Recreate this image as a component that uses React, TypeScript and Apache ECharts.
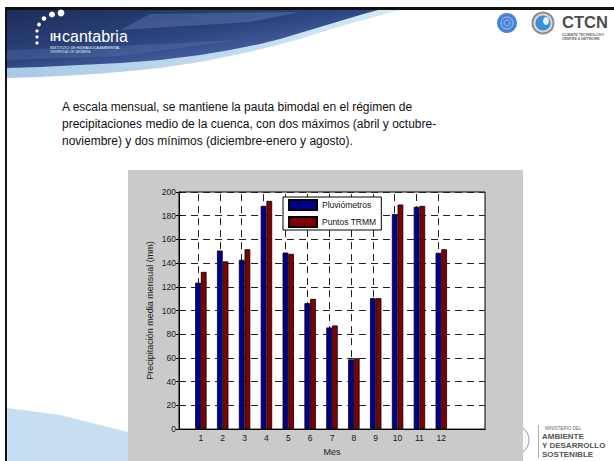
import React, { useEffect, useRef } from 'react';
import * as echarts from 'echarts';

const months = [1, 2, 3, 4, 5, 6, 7, 8, 9, 10, 11, 12];
const pluviometros = [123.5, 150.6, 142.8, 188.3, 148.9, 106.2, 85.7, 58.8, 110.4, 181.4, 187.5, 148.7];
const puntosTrmm = [132.6, 141.4, 151.7, 192.5, 147.8, 109.8, 87.4, 59.7, 110.4, 189.4, 188.3, 151.7];
const seriesNames = ['Pluviómetros', 'Puntos TRMM'];
const yTitle = 'Precipitación media mensual (mm)';
const xTitle = 'Mes';
const paragraph = [
  'A escala mensual, se mantiene la pauta bimodal en el régimen de',
  'precipitaciones medio de la cuenca, con dos máximos (abril y octubre-',
  'noviembre) y dos mínimos (diciembre-enero y agosto).',
];
const ministryLines = ['AMBIENTE', 'Y DESARROLLO', 'SOSTENIBLE'];

const FONT = "'Liberation Sans', Arial, sans-serif";

function buildOption(): any {
  const dashed = [7, 5];
  const graphic: any[] = [
    // left & top borders
    { type: 'rect', z: -20, shape: { x: 5, y: 7, width: 2, height: 454 }, style: { fill: '#111' } },
    // header light band
    {
      type: 'polygon', z: -19,
      shape: { points: [[7, 10], [400, 10], [382, 15], [352, 23], [322, 32], [300, 39], [270, 47], [240, 54], [200, 62], [160, 68], [120, 72], [80, 75], [40, 77], [7, 78]] },
      style: { fill: new echarts.graphic.LinearGradient(0, 0, 1, 0, [{ offset: 0, color: '#a7c9e6' }, { offset: 1, color: '#d8e9f7' }]) },
    },
    // header dark swoosh
    {
      type: 'polygon', z: -18,
      shape: { points: [[7, 10], [378, 10], [360, 15], [340, 21], [320, 27], [300, 33], [280, 39], [260, 44], [230, 50], [200, 55], [160, 60], [120, 63], [80, 65], [40, 67], [7, 68]] },
      style: { fill: new echarts.graphic.LinearGradient(0, 0, 1, 1, [{ offset: 0, color: '#1c2d58' }, { offset: 0.45, color: '#2c4580' }, { offset: 1, color: '#6283c4' }]) },
    },
    // streaks
    {
      type: 'polygon', z: -17,
      shape: { points: [[150, 14], [300, 12], [250, 22], [120, 30]] },
      style: { fill: 'rgba(140,170,220,0.25)' },
    },
    {
      type: 'polygon', z: -17,
      shape: { points: [[7, 50], [160, 44], [240, 40], [120, 56], [7, 60]] },
      style: { fill: 'rgba(120,150,210,0.2)' },
    },
    { type: 'rect', z: -16, shape: { x: 5, y: 7, width: 609, height: 3 }, style: { fill: '#111' } },
    // IH cantabria dots
    { type: 'circle', z: -15, shape: { cx: 61, cy: 13, r: 3.4 }, style: { fill: '#fff' } },
    { type: 'circle', z: -15, shape: { cx: 52, cy: 14.5, r: 3 }, style: { fill: '#fff' } },
    { type: 'circle', z: -15, shape: { cx: 44, cy: 18.5, r: 2.3 }, style: { fill: '#fff' } },
    { type: 'circle', z: -15, shape: { cx: 39, cy: 24.5, r: 1.9 }, style: { fill: '#fff' } },
    { type: 'circle', z: -15, shape: { cx: 37, cy: 31, r: 1.6 }, style: { fill: '#fff' } },
    { type: 'circle', z: -15, shape: { cx: 37, cy: 37, r: 1.6 }, style: { fill: '#fff' } },
    { type: 'circle', z: -15, shape: { cx: 37, cy: 43, r: 1.6 }, style: { fill: '#fff' } },
    { type: 'text', z: -15, x: 50, y: 37, style: { text: 'IH', fontSize: 11, fontWeight: 'bold', fill: '#fff', fontFamily: FONT, verticalAlign: 'middle' } },
    { type: 'text', z: -15, x: 62, y: 36, style: { text: 'cantabria', fontSize: 16, fill: '#fff', fontFamily: FONT, verticalAlign: 'middle' } },
    { type: 'text', z: -15, x: 50, y: 47.5, style: { text: 'INSTITUTO DE HIDRÁULICA AMBIENTAL', fontSize: 3.7, lineHeight: 4, fill: '#e8eef8', fontFamily: FONT, verticalAlign: 'middle' } },
    { type: 'text', z: -15, x: 50, y: 51.5, style: { text: 'UNIVERSIDAD DE CANTABRIA', fontSize: 2.8, lineHeight: 3, fill: '#d8e0f0', fontFamily: FONT, verticalAlign: 'middle' } },
    // UN logo
    { type: 'circle', z: -15, shape: { cx: 507, cy: 23, r: 10 }, style: { fill: '#4a84d8' } },
    { type: 'circle', z: -15, shape: { cx: 507, cy: 23, r: 6 }, style: { fill: 'none', stroke: '#9fc0ee', lineWidth: 1 } },
    { type: 'circle', z: -15, shape: { cx: 507, cy: 23, r: 3 }, style: { fill: 'none', stroke: '#9fc0ee', lineWidth: 1 } },
    // globe logo
    { type: 'circle', z: -15, shape: { cx: 543, cy: 23, r: 10.5 }, style: { fill: '#d8d8d8', stroke: '#8c8c8c', lineWidth: 2 } },
    { type: 'circle', z: -15, shape: { cx: 543, cy: 23, r: 7.5 }, style: { fill: '#3a8fd9' } },
    { type: 'ellipse', z: -15, shape: { cx: 546, cy: 21, rx: 3, ry: 4 }, style: { fill: '#e6f0fa' } },
    { type: 'text', z: -15, x: 562, y: 22, style: { text: 'CTCN', fontSize: 16.5, fontWeight: 'bold', fill: '#4d4d4d', fontFamily: FONT, verticalAlign: 'middle' } },
    { type: 'text', z: -15, x: 562, y: 33, style: { text: 'CLIMATE TECHNOLOGY\nCENTRE & NETWORK', fontSize: 3.6, lineHeight: 4, fontWeight: 'bold', fill: '#666', fontFamily: FONT, verticalAlign: 'top' } },
    // paragraph
    ...paragraph.map((t, i) => ({
      type: 'text', z: -15, x: 62, y: 107 + i * 17,
      style: { text: t, fontSize: 12, fill: '#111', fontFamily: FONT, verticalAlign: 'middle' },
    })),
    // bottom-left swoosh
    {
      type: 'polygon', z: -15,
      shape: { points: [[7, 408], [60, 415], [128, 432], [200, 448], [250, 461], [7, 461]] },
      style: { fill: '#c6def2' },
    },
    // ministry emblem & text
    { type: 'circle', z: -15, shape: { cx: 514, cy: 440, r: 15 }, style: { fill: '#fafafa', stroke: '#9a9a9a', lineWidth: 1 } },
    { type: 'rect', z: -15, shape: { x: 538, y: 425, width: 0.8, height: 33 }, style: { fill: '#999' } },
    { type: 'text', z: -15, x: 545, y: 425.5, style: { text: 'MINISTERIO DEL', fontSize: 4.5, lineHeight: 5, fill: '#666', fontFamily: FONT, verticalAlign: 'top' } },
    ...ministryLines.map((t, i) => ({
      type: 'text', z: -15, x: 542, y: 431.5 + i * 9.2,
      style: { text: t, fontSize: 8, lineHeight: 9, fontWeight: 'bold', fill: '#555', fontFamily: FONT, verticalAlign: 'top' },
    })),
    // gray figure background
    { type: 'rect', z: -10, shape: { x: 128, y: 170, width: 395, height: 291 }, style: { fill: '#cacaca' } },
  ];

  const axisFont = { fontSize: 8.5, color: '#1a1a1a', fontFamily: FONT };
  return {
    animation: false,
    backgroundColor: '#ffffff',
    graphic,
    grid: { left: 179, top: 192, right: 129, bottom: 28.3, show: true, backgroundColor: '#ffffff', borderColor: '#000', borderWidth: 1, z: 0 },
    legend: {
      data: seriesNames,
      orient: 'vertical',
      left: 283,
      top: 197,
      itemWidth: 28,
      itemHeight: 10,
      itemGap: 5,
      padding: [2, 5, 2, 5],
      icon: 'rect',
      backgroundColor: '#fff',
      borderColor: '#000',
      borderWidth: 1,
      textStyle: { fontSize: 8.5, color: '#111', fontFamily: FONT },
    },
    xAxis: [
      {
        type: 'value', min: 0, max: 14, interval: 1, position: 'bottom',
        name: xTitle, nameLocation: 'middle', nameGap: 15,
        nameTextStyle: { fontSize: 9, color: '#1a1a1a', fontFamily: FONT },
        axisLine: { show: true, lineStyle: { color: '#000', width: 1 } },
        axisTick: { show: false },
        splitLine: { show: false },
        axisLabel: { ...axisFont, margin: 4, formatter: (v: number) => (months.includes(v) ? String(v) : '') },
      },
      {
        type: 'value', min: 0, max: 14, interval: 1, position: 'top',
        axisLine: { show: true, lineStyle: { color: '#000', width: 1 } },
        axisTick: { show: false }, axisLabel: { show: false }, splitLine: { show: false },
      },
    ],
    yAxis: [
      {
        type: 'value', min: 0, max: 200, interval: 20, position: 'left',
        name: yTitle, nameLocation: 'middle', nameGap: 25,
        nameTextStyle: { fontSize: 9, color: '#1a1a1a', fontFamily: FONT },
        axisLine: { show: true, lineStyle: { color: '#000', width: 1 } },
        axisTick: { show: true, inside: true, length: 3, lineStyle: { color: '#000' } },
        axisLabel: { ...axisFont, margin: 3 },
        splitLine: { show: true, lineStyle: { color: '#222', type: dashed, width: 1 } },
      },
      {
        type: 'value', min: 0, max: 200, interval: 20, position: 'right',
        axisLine: { show: true, lineStyle: { color: '#000', width: 1 } },
        axisTick: { show: true, inside: true, length: 3, lineStyle: { color: '#000' } },
        axisLabel: { show: false }, splitLine: { show: false },
      },
    ],
    series: [
      {
        name: seriesNames[0], type: 'bar', xAxisIndex: 0, yAxisIndex: 0, z: 2,
        barWidth: 5.7, barGap: '0%',
        data: months.map((m, i) => [m, pluviometros[i]]),
        itemStyle: { color: '#00008f', borderColor: '#000', borderWidth: 0.8 },
        markLine: {
          z: 1, silent: true, symbol: ['none', 'none'], label: { show: false },
          lineStyle: { color: '#222', type: dashed, width: 1 },
          emphasis: { disabled: true },
          data: months.map((m) => ({ xAxis: m })),
        },
      },
      {
        name: seriesNames[1], type: 'bar', xAxisIndex: 0, yAxisIndex: 0, z: 2,
        barWidth: 5.7, barGap: '0%',
        data: months.map((m, i) => [m, puntosTrmm[i]]),
        itemStyle: { color: '#800000', borderColor: '#000', borderWidth: 0.8 },
      },
    ],
  };
}

export default function App() {
  const ref = useRef<HTMLDivElement>(null);
  useEffect(() => {
    if (!ref.current) return;
    const chart = echarts.init(ref.current, null, { renderer: 'svg' });
    chart.setOption(buildOption());
    return () => chart.dispose();
  }, []);
  return (
    <div
      ref={ref}
      style={{ position: 'absolute', left: 0, top: 0, width: 614, height: 461, background: '#fff' }}
    />
  );
}
